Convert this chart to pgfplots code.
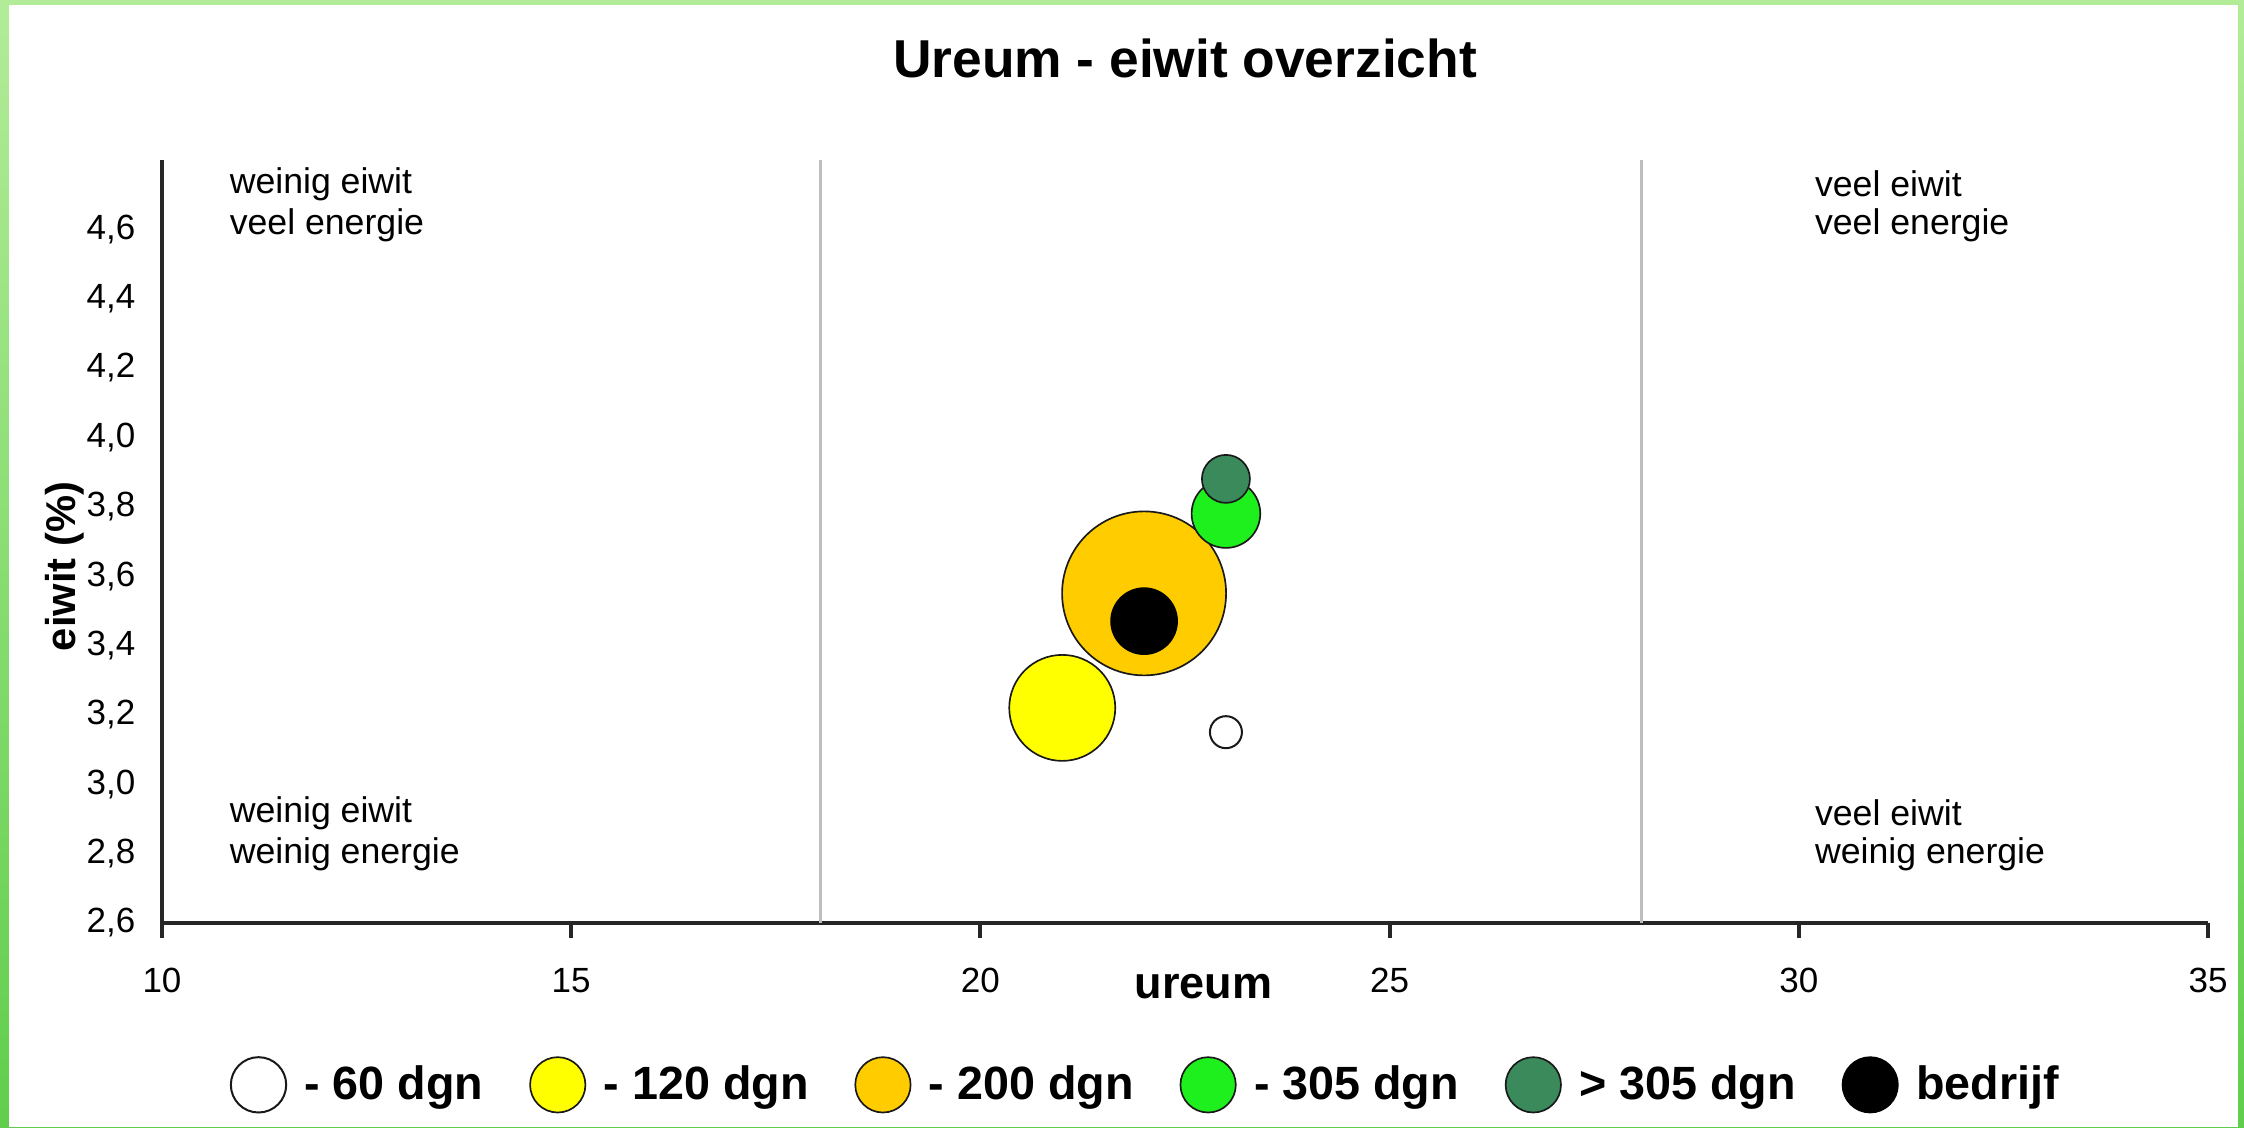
\documentclass[border=0pt]{standalone}
\usepackage{fontspec}
\setmainfont{Liberation Sans}
\usepackage{pgfplots}
\pgfplotsset{compat=1.18}
\definecolor{cyellow}{RGB}{255,255,0}
\definecolor{corange}{RGB}{255,204,0}
\definecolor{cgreen}{RGB}{30,240,30}
\definecolor{cdgreen}{RGB}{58,138,92}
\definecolor{bglight}{RGB}{178,236,152}
\definecolor{bgdark}{RGB}{96,206,76}
\definecolor{vline}{RGB}{190,190,190}
\begin{document}
\begin{tikzpicture}
% background (px -> 0.3pt)
\path[use as bounding box] (0,0) rectangle (673.2pt,338.1pt);
\shade[top color=bglight, bottom color=bgdark] (0,0) rectangle (673.2pt,338.1pt);
\fill[white] (2.7pt,0) rectangle (671.4pt,336.6pt);
\node[font=\fontsize{16}{19}\selectfont\bfseries] at (355.5pt,320.6pt) {Ureum - eiwit overzicht};
\begin{axis}[
  at={(48.6pt,61.2pt)}, anchor=south west,
  scale only axis, width=613.8pt, height=229pt,
  xmin=10, xmax=35, ymin=2.6, ymax=4.8,
  axis x line*=bottom, axis y line*=left,
  axis line style={line width=1.2pt, black!85},
  xtick={10,15,20,25,30,35},
  ytick={2.6,2.8,3.0,3.2,3.4,3.6,3.8,4.0,4.2,4.4,4.6},
  tick align=outside,
  major tick length=4.5pt,
  xtick style={line width=1.2pt, black!85},
  ytick style={draw=none},
  ticklabel style={font=\fontsize{10.5}{12}\selectfont},
  xticklabel style={yshift=-5.5pt},
  yticklabel style={/pgf/number format/.cd, use comma, fixed, fixed zerofill, precision=1},
  /pgf/number format/assume math mode=true,
  xlabel={ureum}, ylabel={eiwit (\%)},
  xlabel style={font=\fontsize{13.5}{15}\selectfont\bfseries, at={(axis description cs:0.509,0)}, anchor=center, yshift=-19pt},
  ylabel style={font=\fontsize{12.5}{15}\selectfont\bfseries, at={(axis description cs:-0.0475,0.467)}, anchor=center},
  legend columns=6,
  legend style={draw=none, fill=none, at={(0.482,-0.212)}, anchor=center,
    font=\fontsize{14}{17}\selectfont\bfseries,
    /tikz/every even column/.append style={column sep=12pt},
    /tikz/every odd column/.append style={column sep=3.5pt}},
  legend image code/.code={\draw[#1, mark size=8.3pt] plot coordinates {(0.25cm,0cm)};},
]
\draw[vline, line width=0.8pt] (axis cs:18.05,2.6) -- (axis cs:18.05,4.8);
\draw[vline, line width=0.8pt] (axis cs:28.08,2.6) -- (axis cs:28.08,4.8);

\addplot[mark=*, mark size=4.8pt, draw=black!90, fill=white, line width=0.6pt] coordinates {(23,3.15)};
\addlegendentry{- 60 dgn}
\addplot[mark=*, mark size=15.9pt, draw=black!90, fill=cyellow, line width=0.5pt] coordinates {(21,3.22)};
\addlegendentry{- 120 dgn}
\addplot[mark=*, mark size=24.6pt, draw=black!90, fill=corange, line width=0.5pt] coordinates {(22,3.55)};
\addlegendentry{- 200 dgn}
\addplot[mark=*, mark size=10.3pt, draw=black!90, fill=cgreen, line width=0.5pt] coordinates {(23,3.78)};
\addlegendentry{- 305 dgn}
\addplot[mark=*, mark size=7.2pt, draw=black!90, fill=cdgreen, line width=0.5pt] coordinates {(23,3.88)};
\addlegendentry{> 305 dgn}
\addplot[mark=*, mark size=9.9pt, draw=black, fill=black, line width=0.5pt] coordinates {(22,3.47)};
\addlegendentry{bedrijf}

\node[anchor=west, font=\fontsize{10.7}{12}\selectfont, inner sep=0pt] at (axis cs:10.82,4.73) {weinig eiwit};
\node[anchor=west, font=\fontsize{10.7}{12}\selectfont, inner sep=0pt] at (axis cs:10.82,4.61) {veel energie};
\node[anchor=west, font=\fontsize{10.7}{12}\selectfont, inner sep=0pt] at (axis cs:10.82,2.917) {weinig eiwit};
\node[anchor=west, font=\fontsize{10.7}{12}\selectfont, inner sep=0pt] at (axis cs:10.82,2.799) {weinig energie};
\node[anchor=west, font=\fontsize{10.7}{12}\selectfont, inner sep=0pt] at (axis cs:30.19,4.73) {veel eiwit};
\node[anchor=west, font=\fontsize{10.7}{12}\selectfont, inner sep=0pt] at (axis cs:30.19,4.61) {veel energie};
\node[anchor=west, font=\fontsize{10.7}{12}\selectfont, inner sep=0pt] at (axis cs:30.19,2.917) {veel eiwit};
\node[anchor=west, font=\fontsize{10.7}{12}\selectfont, inner sep=0pt] at (axis cs:30.19,2.799) {weinig energie};
\end{axis}
\end{tikzpicture}
\end{document}
